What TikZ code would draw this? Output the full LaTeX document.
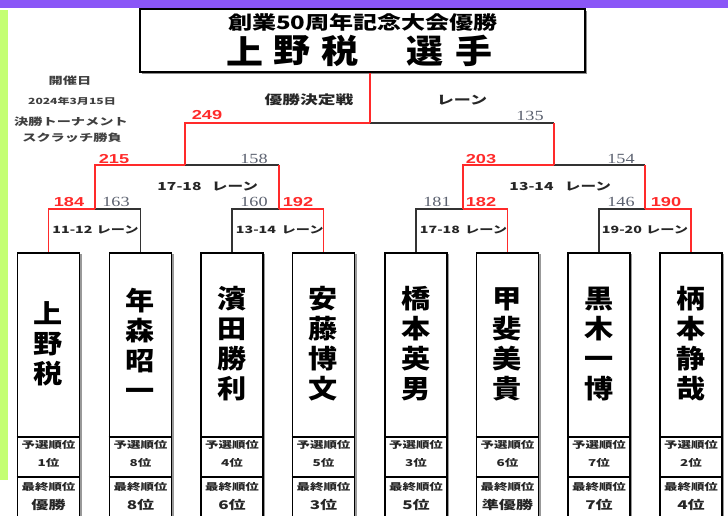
\documentclass[tikz,border=0pt]{standalone}
\usepackage{fontspec}
\usetikzlibrary{shadows}
\setmainfont{Liberation Sans}
\newfontfamily\jpT[FakeStretch=1.42]{Noto Sans CJK JP}
\newfontfamily\jpH[FakeStretch=1.3]{Noto Sans CJK JP}
\newfontfamily\jpN[FakeStretch=1.12]{Noto Sans CJK JP}
\newfontfamily\numR[FakeStretch=1.4]{Liberation Sans}
\newfontfamily\numG[FakeStretch=1.3]{Liberation Serif}
\definecolor{band}{HTML}{8A56F7}
\definecolor{lime}{HTML}{C4FF73}
\definecolor{winred}{HTML}{FF2A2A}
\definecolor{losegray}{HTML}{333333}
\definecolor{scoregray}{HTML}{5C6270}
\tikzset{
  win/.style={winred, line width=1.6pt},
  lose/.style={losegray, line width=1.6pt},
  redscore/.style={text=winred, font=\numR\bfseries\fontsize{13}{13}\selectfont, inner sep=0pt},
  grayscore/.style={text=scoregray, font=\numG\fontsize{14}{14}\selectfont, inner sep=0pt},
  lanesemi/.style={text=black!85, font=\jpT\bfseries\fontsize{11}{11}\selectfont, inner sep=0pt},
  lanequart/.style={text=black!85, font=\jpT\bfseries\fontsize{10}{10}\selectfont, inner sep=0pt},
  titlebox/.style={draw=black, line width=2pt, fill=white, minimum width=445pt, minimum height=63pt, inner sep=0pt,
    drop shadow={shadow xshift=2pt, shadow yshift=-2pt, fill=black!45, opacity=1}},
  titleone/.style={font=\jpH\bfseries\fontsize{18.5}{18.5}\selectfont, inner sep=0pt},
  titletwo/.style={font=\jpN\bfseries\fontsize{33}{33}\selectfont, inner sep=0pt},
  header/.style={text=black!75, font=\jpT\bfseries\fontsize{10}{10}\selectfont, inner sep=0pt},
  player/.style={draw=black, line width=1.6pt, fill=white, minimum width=62pt, minimum height=270pt, anchor=north, inner sep=0pt,
    drop shadow={shadow xshift=2pt, shadow yshift=-1pt, fill=black!40, opacity=1}},
  pname/.style={font=\jpN\bfseries\fontsize{26}{30}\selectfont, align=center, inner sep=0pt},
  cell/.style={text=black!85, font=\jpT\bfseries\fontsize{9.5}{9.5}\selectfont, inner sep=0pt},
  cellbig/.style={text=black!85, font=\jpT\bfseries\fontsize{12}{12}\selectfont, inner sep=0pt},
  divider/.style={black, line width=1.4pt},
}
\begin{document}
\begin{tikzpicture}[x=1pt,y=-1pt]
\clip (0,0) rectangle (728,515);
\fill[white] (0,0) rectangle (728,515);
\fill[band] (0,0) rectangle (728,8);
\fill[lime] (0,10) rectangle (8,480);

% title
\node[titlebox] (title) at (362.5,40.5) {};
\node[titleone] (t1) at (363,22) {創業50周年記念大会優勝};
\node[titletwo] (tc1) at (245,51) {上};
\node[titletwo] (tc2) at (292,51) {野};
\node[titletwo] (tc3) at (340,51) {税};
\node[titletwo] (tc4) at (425,51) {選};
\node[titletwo] (tc5) at (474,51) {手};

% header
\node[header] (h1) at (70,81) {開催日};
\node[header, font=\jpT\bfseries\fontsize{8.5}{8.5}\selectfont] (h2) at (72,101) {2024年3月15日};
\node[header] (h3) at (71,122) {決勝トーナメント};
\node[header] (h4) at (72,138) {スクラッチ勝負};

% players
\foreach \i/\x/\nm/\pre/\fin in {
  1/48.5/{上\\野\\税}/1位/優勝,
  2/140.5/{年\\森\\昭\\一}/8位/8位,
  3/232/{濱\\田\\勝\\利}/4位/6位,
  4/323.5/{安\\藤\\博\\文}/5位/3位,
  5/416/{橋\\本\\英\\男}/3位/5位,
  6/507.5/{甲\\斐\\美\\貴}/6位/準優勝,
  7/599/{黒\\木\\一\\博}/7位/7位,
  8/691/{柄\\本\\静\\哉}/2位/4位}{
  \node[player] (p\i) at (\x,252) {};
  \node[pname] (n\i) at (\x,344) {\nm};
  \draw[divider] (p\i.west |- 0,437) -- (p\i.east |- 0,437);
  \draw[divider] (p\i.west |- 0,477) -- (p\i.east |- 0,477);
  \node[cell] (a\i) at (\x,445) {予選順位};
  \node[cell] (b\i) at (\x,463) {\pre};
  \node[cell] (c\i) at (\x,487) {最終順位};
  \node[cellbig] (d\i) at (\x,505) {\fin};
}

% bracket junctions
\coordinate (q1) at (95,209);
\coordinate (q2) at (279,209);
\coordinate (q3) at (463,209);
\coordinate (q4) at (645,209);
\coordinate (s1) at (185,165);
\coordinate (s2) at (554,165);
\coordinate (f) at (370,123);

\draw[lose] (p2.north) |- (q1);
\draw[win] (p1.north) |- (q1);
\draw[lose] (p3.north) |- (q2);
\draw[win] (p4.north) |- (q2);
\draw[lose] (p5.north) |- (q3);
\draw[win] (p6.north) |- (q3);
\draw[lose] (p7.north) |- (q4);
\draw[win] (p8.north) |- (q4);

\draw[lose] (q2 |- s1) -- (s1);
\draw[win] (q1) |- (s1);
\draw[win] (q2) -- (q2 |- s1);
\draw[lose] (q4 |- s2) -- (s2);
\draw[win] (q3) |- (s2);
\draw[win] (q4) -- (q4 |- s2);

\draw[lose] (s2 |- f) -- (f);
\draw[win] (s1) |- (f);
\draw[win] (s2) -- (s2 |- f);
\draw[win] (f) -- (f |- title.south);

% scores
\node[redscore] (r249) at (207,115) {249};
\node[grayscore] (g135) at (530,116) {135};
\node[redscore] (r215) at (114,159) {215};
\node[grayscore] (g158) at (254,159) {158};
\node[redscore] (r203) at (481,159) {203};
\node[grayscore] (g154) at (621,159) {154};
\node[redscore] (r184) at (69,202) {184};
\node[grayscore] (g163) at (116,202) {163};
\node[grayscore] (g160) at (254,202) {160};
\node[redscore] (r192) at (298,202) {192};
\node[grayscore] (g181) at (437,202) {181};
\node[redscore] (r182) at (481,202) {182};
\node[grayscore] (g146) at (621,202) {146};
\node[redscore] (r190) at (666,202) {190};

% lanes
\node[lanesemi, font=\jpT\bfseries\fontsize{12.5}{12.5}\selectfont] (lf1) at (309,100) {優勝決定戦};
\node[lanesemi, font=\jpT\bfseries\fontsize{12}{12}\selectfont] (lf2) at (462,100) {レーン};
\node[lanesemi] (la1) at (179.5,187) {17-18};
\node[lanesemi] (lb1) at (235,187) {レーン};
\node[lanesemi] (la2) at (531.5,187) {13-14};
\node[lanesemi] (lb2) at (588,187) {レーン};
\node[lanequart] (lc1) at (72.5,230) {11-12};
\node[lanequart] (ld1) at (117.5,230) {レーン};
\node[lanequart] (lc2) at (256,230) {13-14};
\node[lanequart] (ld2) at (302.5,230) {レーン};
\node[lanequart] (lc3) at (440,230) {17-18};
\node[lanequart] (ld3) at (486,230) {レーン};
\node[lanequart] (lc4) at (622,230) {19-20};
\node[lanequart] (ld4) at (667,230) {レーン};
\end{tikzpicture}
\end{document}
